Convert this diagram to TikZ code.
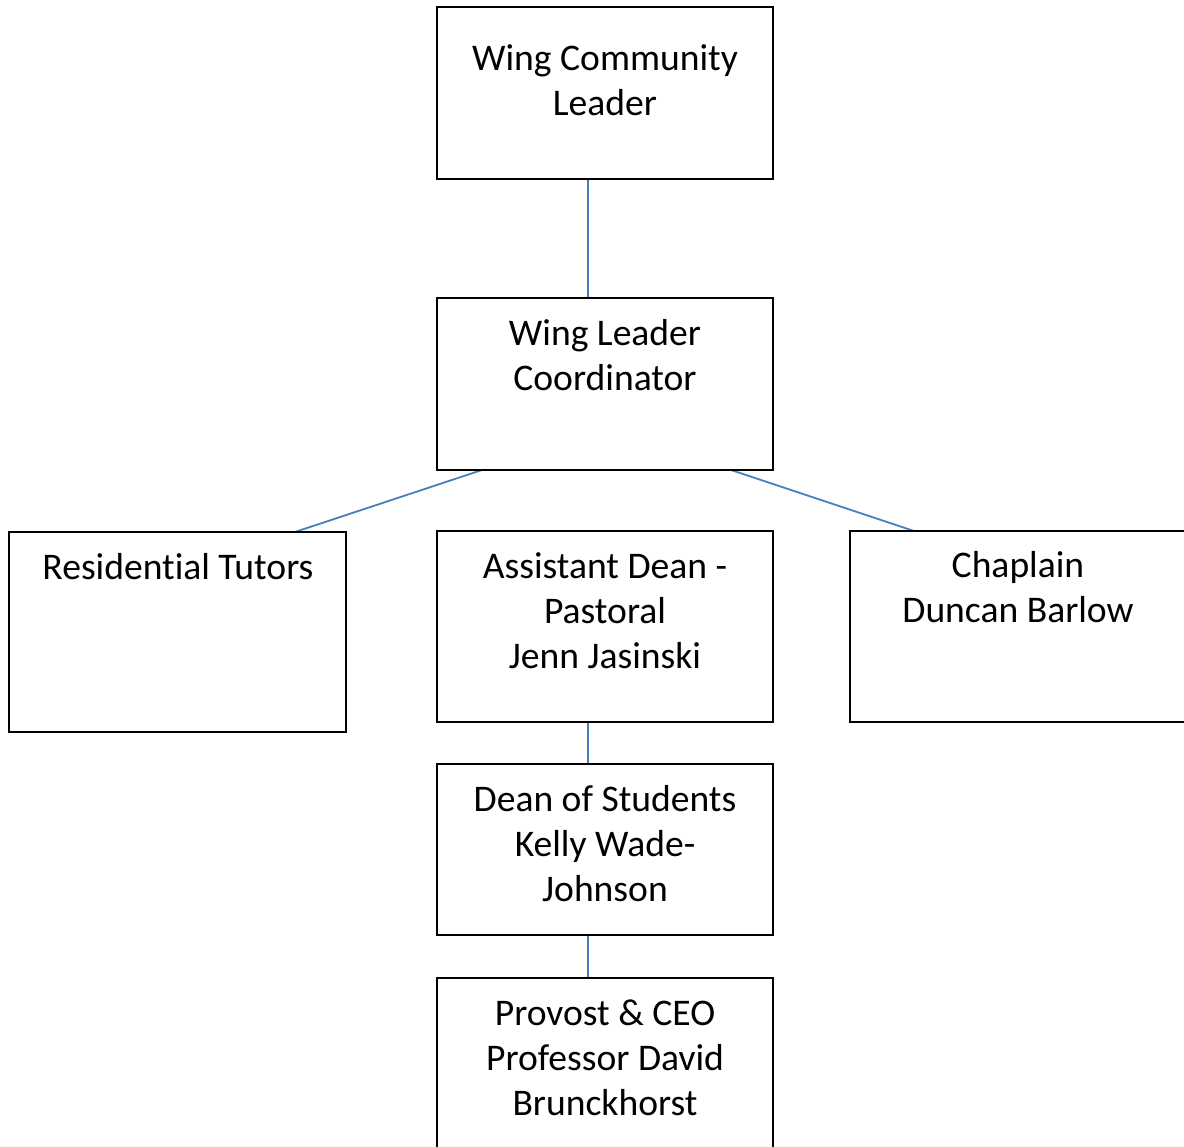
\documentclass[tikz,border=0pt]{standalone}
\usepackage{fontspec}
\setmainfont[Ligatures=NoCommon]{Carlito}
\definecolor{linkblue}{HTML}{4A7EBB}
\begin{document}
\begin{tikzpicture}[x=1pt,y=-1pt,
  box/.style={draw=black,line width=1.8pt,fill=white},
  label text/.style={anchor=base,align=center,inner sep=0pt,font=\fontsize{37.6}{45}\selectfont},
  link/.style={draw=linkblue,line width=1.8pt}]
\clip (0,0) rectangle (1184,1147);
\fill[white] (0,0) rectangle (1184,1147);
% connectors first
\coordinate (wclB) at (588,179);
\coordinate (wlcT) at (588,298);
\coordinate (wlcBL) at (482,470);
\coordinate (wlcBR) at (731,470);
\coordinate (rtT) at (295,532);
\coordinate (chT) at (914,531);
\coordinate (adB) at (588,722);
\coordinate (dsT) at (588,764);
\coordinate (dsB) at (588,935);
\coordinate (pvT) at (588,978);
\draw[link] (wclB) -- (wlcT);
\draw[link] (wlcBL) -- (rtT);
\draw[link] (wlcBR) -- (chT);
\draw[link] (adB) -- (dsT);
\draw[link] (dsB) -- (pvT);
% boxes
\draw[box] (437,7) rectangle (773,179) node[midway,inner sep=0pt] (wcl) {};
\draw[box] (437,298) rectangle (773,470) node[midway,inner sep=0pt] (wlc) {};
\draw[box] (9,532) rectangle (346,732) node[midway,inner sep=0pt] (rt) {};
\draw[box] (437,531) rectangle (773,722) node[midway,inner sep=0pt] (ad) {};
\draw[box] (850,531) rectangle (1186,722) node[midway,inner sep=0pt] (ch) {};
\draw[box] (437,764) rectangle (773,935) node[midway,inner sep=0pt] (ds) {};
\draw[box] (437,978) rectangle (773,1200) node[midway,inner sep=0pt] (pv) {};
% texts (anchor = baseline of the last line)
\node[label text] (wclText) at (605,115.5) {Wing Community\\Leader};
\node[label text] (wlcText) at (605,390.5) {Wing Leader\\Coordinator};
\node[label text] (rtText) at (178,579.5) {Residential Tutors};
\node[label text] (adText) at (605,668.5) {Assistant Dean -\\Pastoral\\Jenn Jasinski};
\node[label text] (chText) at (1018,622.5) {Chaplain\\Duncan Barlow};
\node[label text] (dsText) at (605,901.5) {Dean of Students\\Kelly Wade-\\Johnson};
\node[label text] (pvText) at (605,1115.5) {Provost \& CEO\\Professor David\\Brunckhorst};
\end{tikzpicture}
\end{document}
